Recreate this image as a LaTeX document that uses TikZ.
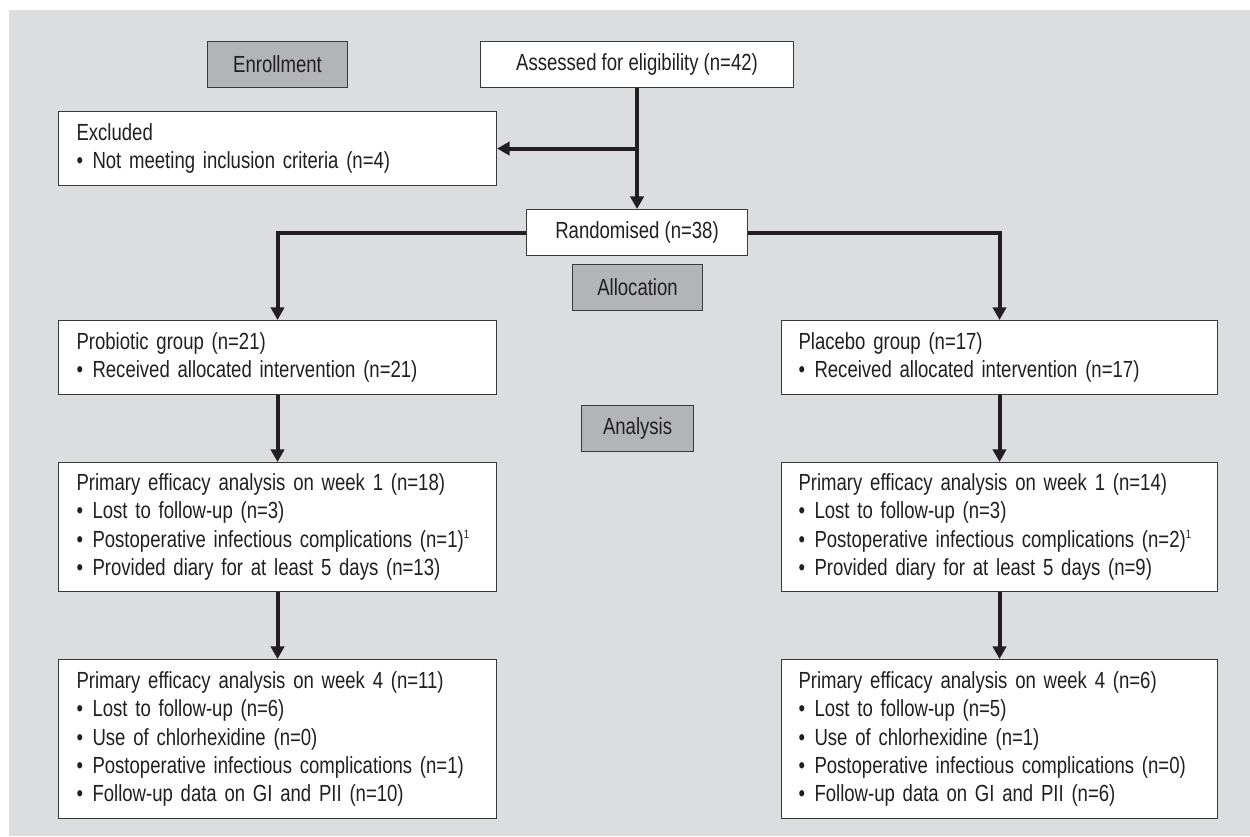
\documentclass[tikz,border=0pt]{standalone}
\usepackage{fontspec}
\setmainfont{Liberation Sans}[FakeStretch=0.795]
\usetikzlibrary{arrows.meta}
\definecolor{bgray}{HTML}{DCDDDF}
\definecolor{lgray}{HTML}{B3B4B6}
\definecolor{ink}{HTML}{231F20}
\definecolor{edge}{HTML}{3A3A3A}
\newcommand{\pxu}{0.75pt}
\newcommand{\bul}{\makebox[12pt][l]{•}}
\newcommand{\supone}{\textsuperscript{\fontsize{9}{9}\selectfont 1}}
\tikzset{
  base/.style={draw=edge, line width=0.8pt, anchor=north west, inner sep=0pt,
    font=\fontsize{17.5}{21.2}\selectfont, text=ink},
  stage/.style={base, fill=lgray, align=center},
  plain/.style={base, fill=white, align=center},
  listbox/.style={base, fill=white, align=left, inner xsep=18*\pxu},
  arr/.style={draw=ink, line width=3pt, -{Triangle[length=9.5pt,width=10pt]}}
}
\begin{document}
\begin{tikzpicture}[x=\pxu,y=-\pxu]
\useasboundingbox (0,0) rectangle (1250,836);
\fill[bgray] (9,10) rectangle (1250,836);

\node[stage, minimum width=140*\pxu, minimum height=46*\pxu] (enroll) at (207,41) {Enrollment};
\node[plain, minimum width=313*\pxu, minimum height=46*\pxu] (assess) at (480,41) {Assessed for eligibility (n=42)};
\node[listbox, text width=402*\pxu, minimum height=74*\pxu] (excl) at (58,111)
  {Excluded\\\bul Not meeting inclusion criteria (n=4)};
\node[plain, minimum width=221*\pxu, minimum height=46*\pxu] (rand) at (526,209) {Randomised (n=38)};
\node[stage, minimum width=130*\pxu, minimum height=46*\pxu] (alloc) at (572,264) {Allocation};
\node[listbox, text width=402*\pxu, minimum height=74*\pxu] (prob) at (58,320)
  {Probiotic group (n=21)\\\bul Received allocated intervention (n=21)};
\node[listbox, inner xsep=17*\pxu, text width=402*\pxu, minimum height=74*\pxu] (plac) at (781,320)
  {Placebo group (n=17)\\\bul Received allocated intervention (n=17)};
\node[stage, minimum width=112*\pxu, minimum height=46*\pxu] (anal) at (581,405) {Analysis};
\node[listbox, text width=402*\pxu, minimum height=129*\pxu] (w1l) at (58,462)
  {Primary efficacy analysis on week 1 (n=18)\\
   \mbox{\bul Lost to follow-up (n=3)}\\
   \mbox{\bul Postoperative infectious complications (n=1)\supone}\\
   \mbox{\bul Provided diary for at least 5 days (n=13)}};
\node[listbox, inner xsep=17*\pxu, text width=402*\pxu, minimum height=129*\pxu] (w1r) at (781,462)
  {Primary efficacy analysis on week 1 (n=14)\\
   \mbox{\bul Lost to follow-up (n=3)}\\
   \mbox{\bul Postoperative infectious complications (n=2)\supone}\\
   \mbox{\bul Provided diary for at least 5 days (n=9)}};
\node[listbox, text width=402*\pxu, minimum height=159*\pxu] (w4l) at (58,659)
  {Primary efficacy analysis on week 4 (n=11)\\
   \mbox{\bul Lost to follow-up (n=6)}\\
   \mbox{\bul Use of chlorhexidine (n=0)}\\
   \mbox{\bul Postoperative infectious complications (n=1)}\\
   \mbox{\bul Follow-up data on GI and PII (n=10)}};
\node[listbox, inner xsep=17*\pxu, text width=402*\pxu, minimum height=159*\pxu] (w4r) at (781,659)
  {Primary efficacy analysis on week 4 (n=6)\\
   \mbox{\bul Lost to follow-up (n=5)}\\
   \mbox{\bul Use of chlorhexidine (n=1)}\\
   \mbox{\bul Postoperative infectious complications (n=0)}\\
   \mbox{\bul Follow-up data on GI and PII (n=6)}};

\coordinate (br) at (assess.south |- excl.east);
\draw[arr] (assess.south) -- (rand.north);
\draw[arr] (br) -- (excl.east);
\draw[arr] (rand.west) -| (prob.north);
\draw[arr] (rand.east) -| (plac.north);
\draw[arr] (prob.south) -- (w1l.north);
\draw[arr] (plac.south) -- (w1r.north);
\draw[arr] (w1l.south) -- (w4l.north);
\draw[arr] (w1r.south) -- (w4r.north);
\end{tikzpicture}
\end{document}
